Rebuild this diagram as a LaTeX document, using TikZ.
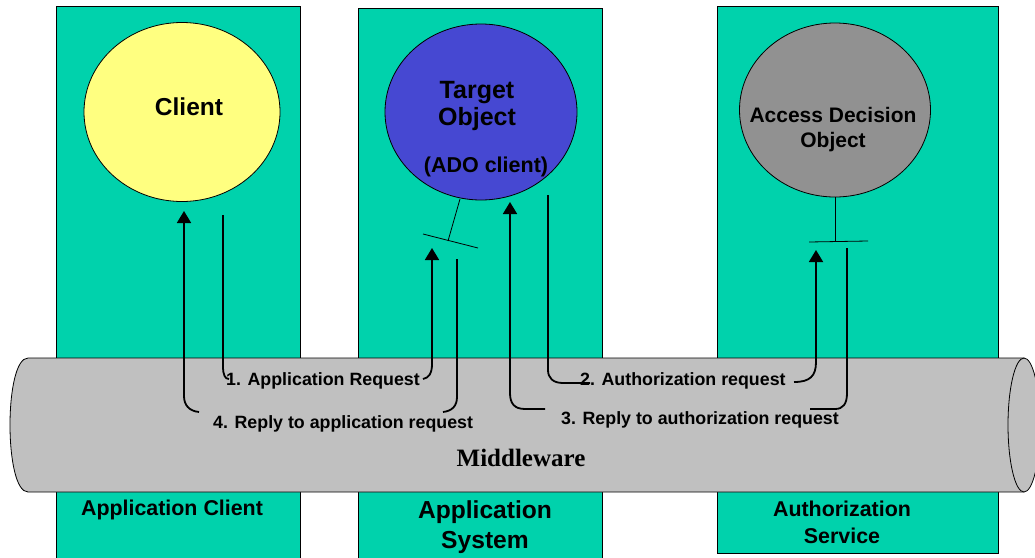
\documentclass[tikz,border=0pt]{standalone}
\usepackage{fontspec}
\setmainfont{Liberation Sans}
\newfontfamily\mwfont{Liberation Serif}
\usetikzlibrary{arrows.meta,shapes.geometric}
\definecolor{panelteal}{RGB}{0,210,172}
\definecolor{clientyellow}{RGB}{255,255,128}
\definecolor{targetblue}{RGB}{70,72,210}
\definecolor{adogray}{RGB}{145,145,145}
\definecolor{pipegray}{RGB}{192,192,192}
\begin{document}
\begin{tikzpicture}[x=1pt,y=-1pt,
  panel/.style={draw=black, line width=0.8pt, fill=panelteal},
  obj/.style={ellipse, draw=black, line width=0.8pt, inner sep=0pt},
  lbl/.style={font=\bfseries\fontsize{17.8}{20}\selectfont, inner sep=0pt, anchor=base west},
  flow/.style={line width=1.8pt},
  flowarrow/.style={flow, -{Triangle[width=14pt,length=12pt]}},
  stick/.style={line width=0.8pt}]
\useasboundingbox (0,0) rectangle (1035,557);
\clip (0,0) rectangle (1035,557);

% service columns
\draw[panel] (56,6) rectangle (300,570);
\draw[panel] (358,8) rectangle (602,570);
\draw[panel] (717,6) rectangle (998,553);

% objects
\node[obj, fill=clientyellow, minimum width=196pt, minimum height=179pt] (client) at (182,112) {};
\node[obj, fill=targetblue, minimum width=192pt, minimum height=176pt] (target) at (481,112) {};
\node[obj, fill=adogray, minimum width=191pt, minimum height=174pt] (ado) at (835,110) {};

\node[font=\bfseries\fontsize{24.5}{28}\selectfont, inner sep=0pt, anchor=base] (clienttxt) at (189,115) {Client};
\node[align=center, font=\bfseries\fontsize{25}{27}\selectfont, inner sep=0pt] (targettxt) at (477,106) {Target\\Object};
\node[font=\bfseries\fontsize{21.5}{24}\selectfont, inner sep=0pt] (adoclient) at (486,167) {(ADO client)};
\node[align=center, font=\bfseries\fontsize{21}{25}\selectfont, inner sep=0pt] (adotxt) at (833,130) {Access Decision\\Object};

% interfaces
\coordinate (tstem) at (460,199);
\coordinate (tjoin) at (448,241);
\coordinate (tbarl) at (423,234);
\coordinate (tbarr) at (478,248);
\draw[stick] (tstem) -- (tjoin);
\draw[stick] (tbarl) -- (tbarr);
\coordinate (astem) at (835,197);
\coordinate (ajoin) at (835,242);
\coordinate (abarl) at (809,242);
\coordinate (abarr) at (868,241);
\draw[stick] (astem) -- (ajoin);
\draw[stick] (abarl) -- (abarr);

% middleware pipe
\draw[line width=0.8pt, fill=pipegray] (28,358) -- (1024,358) -- (1024,492) -- (28,492)
  .. controls (4,492) and (4,358) .. (28,358) -- cycle;
\draw[line width=0.8pt, fill=pipegray] (1024,425) ellipse [x radius=16, y radius=67];
\node[font=\mwfont\bfseries\fontsize{25}{30}\selectfont, inner sep=0pt, anchor=base] (mw) at (521,466) {Middleware};

% column titles
\node[font=\bfseries\fontsize{21.4}{26}\selectfont, inner sep=0pt] (pclient) at (172,510) {Application Client};
\node[align=center, font=\bfseries\fontsize{24.6}{30}\selectfont, inner sep=0pt] (psystem) at (485,527) {Application\\System};
\node[align=center, font=\bfseries\fontsize{21.4}{27}\selectfont, inner sep=0pt] (pauth) at (842,522) {Authorization\\Service};

% message labels
\node[lbl] (m1) at (226,385) {1. Application Request};
\node[lbl] (m2) at (580,385) {2. Authorization request};
\node[lbl] (m3) at (561,424) {3. Reply to authorization request};
\node[lbl] (m4) at (213,428) {4. Reply to application request};

% message flows
\coordinate (c1s) at (223,215);
\coordinate (c1e) at (229,379);
\coordinate (t1s) at (423,379);
\coordinate (t1e) at (432,248);
\draw[flow] (c1s) -- (223,366) .. controls (223,375) and (225,379) .. (c1e);
\draw[flowarrow] (t1s) .. controls (429,378) and (432,373) .. (432,364) -- (t1e);

\coordinate (t2s) at (548,195);
\coordinate (t2e) at (590,383);
\coordinate (a2s) at (794,382);
\coordinate (a2e) at (816,250);
\draw[flow] (t2s) -- (548,370) .. controls (548,378) and (553,383) .. (563,383) -- (t2e);
\draw[flowarrow] (a2s) .. controls (810,382) and (816,376) .. (816,362) -- (a2e);

\coordinate (a3s) at (847,248);
\coordinate (a3e) at (810,409);
\coordinate (t3s) at (545,409);
\coordinate (t3e) at (510,202);
\draw[flow] (a3s) -- (847,393) .. controls (847,404) and (843,409) .. (835,409) -- (a3e);
\draw[flowarrow] (t3s) -- (525,409) .. controls (514,409) and (510,403) .. (510,393) -- (t3e);

\coordinate (t4s) at (457,259);
\coordinate (t4e) at (443,412);
\coordinate (c4s) at (199,412);
\coordinate (c4e) at (184,211);
\draw[flow] (t4s) -- (457,397) .. controls (457,406) and (452,411) .. (t4e);
\draw[flowarrow] (c4s) .. controls (189,411) and (184,405) .. (184,396) -- (c4e);
\end{tikzpicture}
\end{document}
